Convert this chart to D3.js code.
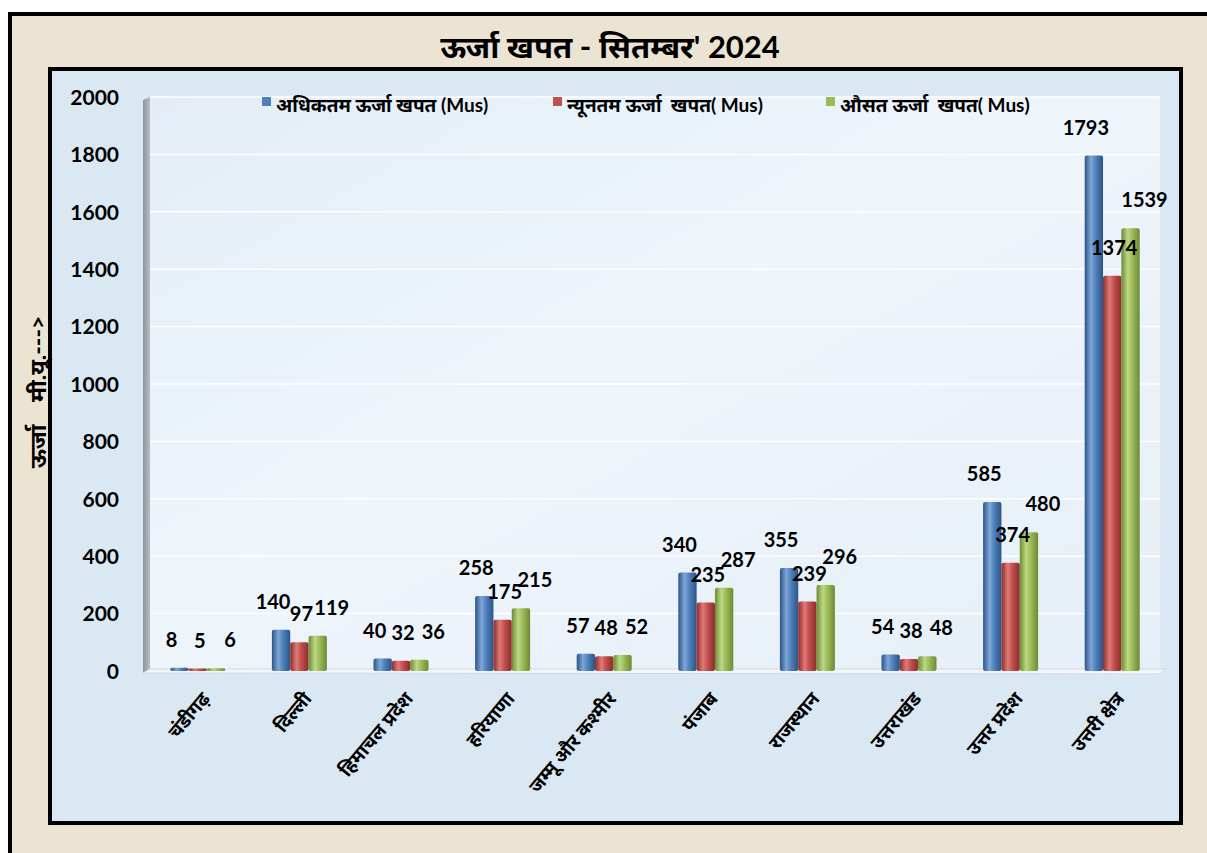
<!DOCTYPE html>
<html>
<head>
<meta charset="utf-8">
<script src="https://cdn.jsdelivr.net/npm/d3@7"></script>
<style>
  body { margin: 0; background: #fff; }
  svg { display: block; }
  text { font-family: "Lato", "Noto Sans", sans-serif; font-weight: bold; fill: #000; }
</style>
</head>
<body>
<div id="chart"></div>
<script>
const categories = ['चंडीगढ़', 'दिल्ली', 'हिमाचल प्रदेश', 'हरियाणा', 'जम्मू और कश्मीर', 'पंजाब', 'राजस्थान', 'उत्तराखंड', 'उत्तर प्रदेश', 'उत्तरी क्षेत्र'];
const seriesNames = ['अधिकतम ऊर्जा खपत (Mus)', 'न्यूनतम ऊर्जा  खपत( Mus)', 'औसत ऊर्जा  खपत( Mus)'];
const maxValues = [8, 140, 40, 258, 57, 340, 355, 54, 585, 1793];
const minValues = [5, 97, 32, 175, 48, 235, 239, 38, 374, 1374];
const avgValues = [6, 119, 36, 215, 52, 287, 296, 48, 480, 1539];
const yTicks = [0, 200, 400, 600, 800, 1000, 1200, 1400, 1600, 1800, 2000];
const title = "ऊर्जा खपत - सितम्बर' 2024";
const yLabel = 'ऊर्जा    मी.यू.--->';

const width = 1207, height = 853;
const plot = { left: 147, right: 1163, top: 97, bottom: 671 };
const colors = ['#4f81bd', '#c0504d', '#9bbb59'];
const darks = ['#2c5487', '#8c2d2a', '#6d8a33'];
const lights = ['#7fa6d8', '#e07a77', '#bcd884'];

const series = [maxValues, minValues, avgValues];

const svg = d3.select('#chart').append('svg')
    .attr('width', width)
    .attr('height', height);

const defs = svg.append('defs');

// cylinder-ish shading for each series
colors.forEach((c, i) => {
  const g = defs.append('linearGradient').attr('id', 'bar' + i)
      .attr('x1', 0).attr('x2', 1).attr('y1', 0).attr('y2', 0);
  g.append('stop').attr('offset', '0%').attr('stop-color', darks[i]);
  g.append('stop').attr('offset', '35%').attr('stop-color', lights[i]);
  g.append('stop').attr('offset', '60%').attr('stop-color', c);
  g.append('stop').attr('offset', '100%').attr('stop-color', darks[i]);
});

const bg = defs.append('linearGradient').attr('id', 'plotbg')
    .attr('x1', 0).attr('y1', 0).attr('x2', 1).attr('y2', 1);
bg.append('stop').attr('offset', '0%').attr('stop-color', '#e4edf7');
bg.append('stop').attr('offset', '45%').attr('stop-color', '#eef5fb');
bg.append('stop').attr('offset', '100%').attr('stop-color', '#e6eef7');

const wall = defs.append('linearGradient').attr('id', 'wall')
    .attr('x1', 0).attr('x2', 1).attr('y1', 0).attr('y2', 0);
wall.append('stop').attr('offset', '0%').attr('stop-color', '#8e949c');
wall.append('stop').attr('offset', '100%').attr('stop-color', '#b9bec5');

// outer frame
svg.append('rect')
    .attr('x', 10).attr('y', 14).attr('width', 1220).attr('height', 860)
    .attr('fill', '#ebe4d2').attr('stroke', '#000').attr('stroke-width', 4);

// inner panel
svg.append('rect')
    .attr('x', 50).attr('y', 69).attr('width', 1131).attr('height', 754)
    .attr('fill', '#dae8f3').attr('stroke', '#000').attr('stroke-width', 4);

svg.append('text')
    .attr('x', 610).attr('y', 50)
    .attr('text-anchor', 'middle').attr('dominant-baseline', 'middle')
    .style('font-size', '31px')
    .text(title);

const x0 = d3.scaleBand().domain(categories).range([plot.left, plot.right]).padding(0);
const groupW = 55;
const x1 = d3.scaleBand().domain([0, 1, 2]).range([0, groupW]).padding(0);
const y = d3.scaleLinear().domain([0, 2000]).range([plot.bottom, plot.top]);

// plot background
svg.append('rect')
    .attr('x', plot.left + 3).attr('y', plot.top)
    .attr('width', plot.right - plot.left - 6).attr('height', plot.bottom - plot.top)
    .attr('fill', 'url(#plotbg)');

// 3d wall on the left and floor
svg.append('path')
    .attr('d', `M${plot.left - 4},${plot.top + 3} L${plot.left + 3},${plot.top} L${plot.left + 3},${plot.bottom - 2} L${plot.left - 4},${plot.bottom + 2} Z`)
    .attr('fill', 'url(#wall)');
svg.append('path')
    .attr('d', `M${plot.left - 4},${plot.bottom + 2} L${plot.left + 3},${plot.bottom - 2} L${plot.right + 2},${plot.bottom - 2} L${plot.right - 4},${plot.bottom + 3} Z`)
    .attr('fill', '#f4f7fa').attr('stroke', '#c9d3dc').attr('stroke-width', 0.8);

// gridlines
svg.append('g')
    .selectAll('line')
    .data(yTicks.filter(d => d > 0))
    .join('line')
    .attr('x1', plot.left + 3).attr('x2', plot.right - 3)
    .attr('y1', d => y(d)).attr('y2', d => y(d))
    .attr('stroke', '#ffffff').attr('stroke-width', 1.5);

// y axis
const yAxis = d3.axisLeft(y).tickValues(yTicks).tickFormat(d3.format('d')).tickSize(0).tickPadding(0);
const yg = svg.append('g')
    .attr('transform', `translate(${plot.left - 28},0)`)
    .call(yAxis);
yg.select('.domain').remove();
yg.selectAll('text').style('font-size', '21px').attr('dy', '0.35em');

svg.append('text')
    .attr('transform', `translate(40,392) rotate(-90)`)
    .attr('text-anchor', 'middle').attr('dominant-baseline', 'middle')
    .style('font-size', '23px')
    .style('white-space', 'pre')
    .text(yLabel);

// bars
const rows = categories.map((c, i) => ({ cat: c, vals: series.map(s => s[i]) }));
const groups = svg.append('g').selectAll('g')
    .data(rows)
    .join('g')
    .attr('transform', d => `translate(${x0(d.cat) + (x0.bandwidth() - groupW) / 2},0)`);

groups.selectAll('rect')
    .data(d => d.vals.map((v, k) => ({ k, v })))
    .join('rect')
    .attr('x', d => x1(d.k))
    .attr('width', x1.bandwidth())
    .attr('y', d => y(d.v) - 1)
    .attr('height', d => plot.bottom - y(d.v) + 1)
    .attr('rx', 2)
    .attr('fill', d => `url(#bar${d.k})`);

// value labels
const labelDx = [-8, 2, 14];
groups.selectAll('text')
    .data(d => d.vals.map((v, k) => ({ k, v })))
    .join('text')
    .attr('x', d => x1(d.k) + x1.bandwidth() / 2 + labelDx[d.k])
    .attr('y', d => y(d.v) - 27)
    .attr('text-anchor', 'middle').attr('dominant-baseline', 'middle')
    .style('font-size', '20px')
    .text(d => d.v);

// category labels
const xAxis = d3.axisBottom(x0).tickSize(0).tickPadding(0);
const xg = svg.append('g')
    .attr('transform', `translate(0,${plot.bottom + 24})`)
    .call(xAxis);
xg.select('.domain').remove();
xg.selectAll('text')
    .attr('text-anchor', 'end')
    .attr('dy', '0.35em')
    .attr('transform', 'translate(8,0) rotate(-50)')
    .style('font-size', '19px');

// legend
const legendX = [262, 553, 826];
const legend = svg.append('g').selectAll('g')
    .data(seriesNames)
    .join('g')
    .attr('transform', (d, i) => `translate(${legendX[i]},107)`);
legend.append('rect')
    .attr('x', 0).attr('y', -10).attr('width', 9).attr('height', 9)
    .attr('fill', (d, i) => colors[i]);
legend.append('text')
    .attr('x', 14).attr('y', 0)
    .attr('dominant-baseline', 'middle')
    .style('font-size', '19px')
    .style('white-space', 'pre')
    .text(d => d);
</script>
</body>
</html>
